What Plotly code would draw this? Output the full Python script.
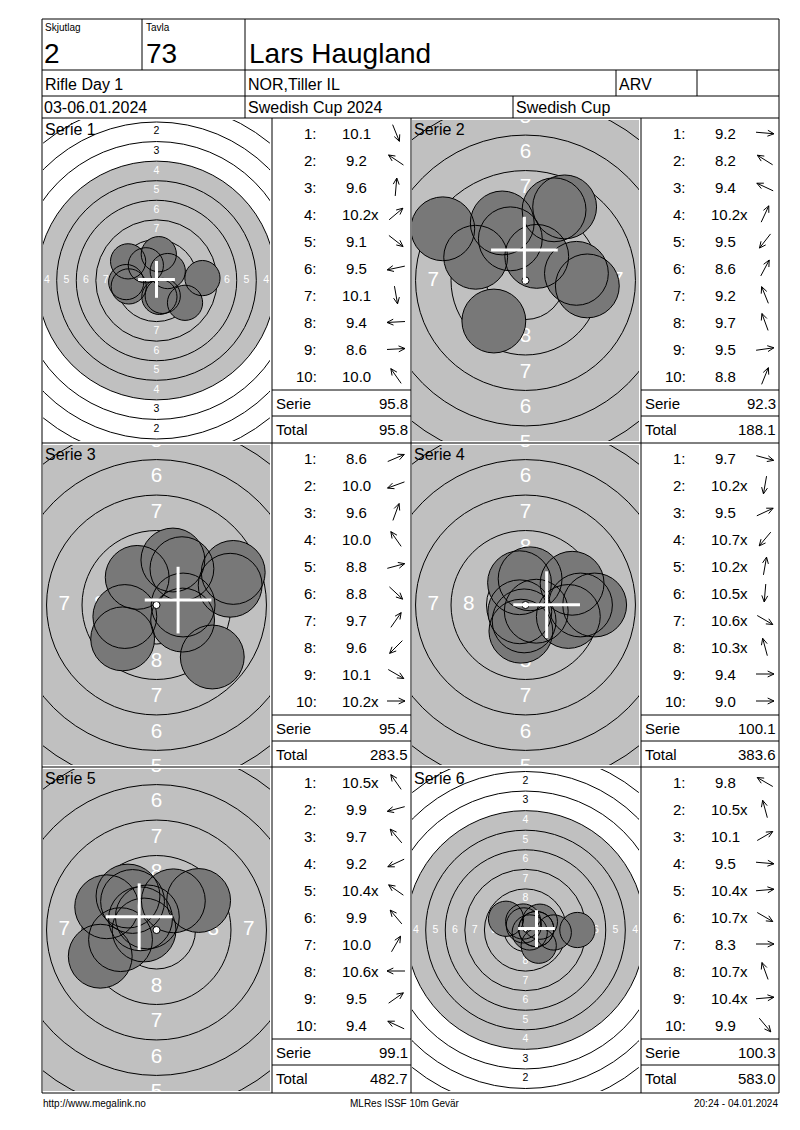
import math

import plotly.graph_objects as go

# ---- data read from the score card ----
skjutlag = "2"
tavla = "73"
shooter = "Lars Haugland"
klass = "Rifle Day 1"
club = "NOR,Tiller IL"
lag = "ARV"
dates = "03-06.01.2024"
competition = "Swedish Cup 2024"
cup = "Swedish Cup"
footer_left = "http://www.megalink.no"
footer_mid = "MLRes ISSF 10m Gevär"
footer_right = "20:24 - 04.01.2024"

series_names = ["Serie 1", "Serie 2", "Serie 3", "Serie 4", "Serie 5", "Serie 6"]

# shot values and direction of each shot (degrees, counter-clockwise from 3 o'clock)
s1_scores = [10.1, 9.2, 9.6, 10.2, 9.1, 9.5, 10.1, 9.4, 8.6, 10.0]
s1_dirs = [-68, 146, 85, 40, -38, 192, -80, 183, 3, 125]
s2_scores = [9.2, 8.2, 9.4, 10.2, 9.5, 8.6, 9.2, 9.7, 9.5, 8.8]
s2_dirs = [-5, 148, 155, 65, 232, 62, 112, 110, 8, 68]
s3_scores = [8.6, 10.0, 9.6, 10.0, 8.8, 8.8, 9.7, 9.6, 10.1, 10.2]
s3_dirs = [23, 200, 70, 125, 15, -43, 55, 225, -30, 0]
s4_scores = [9.7, 10.2, 9.5, 10.7, 10.2, 10.5, 10.6, 10.3, 9.4, 9.0]
s4_dirs = [-15, -100, 25, 230, 80, -95, -30, 105, 0, 0]
s5_scores = [10.5, 9.9, 9.7, 9.2, 10.4, 9.9, 10.0, 10.6, 9.5, 9.4]
s5_dirs = [125, 195, 130, 205, 145, 130, 60, 180, 35, 155]
s6_scores = [9.8, 10.5, 10.1, 9.5, 10.4, 10.7, 8.3, 10.7, 10.4, 9.9]
s6_dirs = [150, 105, 30, -5, 5, -30, 0, 110, 5, -50]

all_scores = [s1_scores, s2_scores, s3_scores, s4_scores, s5_scores, s6_scores]
all_dirs = [s1_dirs, s2_dirs, s3_dirs, s4_dirs, s5_dirs, s6_dirs]

# ---- page layout (pixels, page coordinates) ----
PAGE_W, PAGE_H = 800, 1130
OFF = 8                      # browser body margin
W, H = PAGE_W - OFF, PAGE_H - OFF
FONT = "Liberation Sans, Arial, sans-serif"
COL_X = [42, 272, 411, 641, 779]
BLOCK_Y = [118, 443, 767, 1093]
view_half_mm = [14.5, 8.0, 8.0, 8.0, 8.0, 14.5]   # target zoom per series

GRAY = "#c0c0c0"
SHOT = "#787878"
PELLET_R = 2.25
CROSS_R = 2.35

fig = go.Figure()
shapes = []
annotations = []


def line(x0, y0, x1, y1):
    shapes.append(dict(type="line", xref="x", yref="y", x0=x0, y0=y0, x1=x1, y1=y1,
                       line=dict(color="black", width=1), layer="above"))


def text(x, y, s, size, anchor="left", color="black"):
    annotations.append(dict(xref="x", yref="y", x=x, y=y, text=s, showarrow=False,
                            xanchor=anchor, yanchor="middle",
                            font=dict(family=FONT, size=size, color=color)))


# overlay axis in page pixels
fig.add_trace(go.Scatter(x=[], y=[], xaxis="x", yaxis="y", hoverinfo="skip"))

running_total = 0.0
for k in range(6):
    row, col = k // 2, k % 2
    tx0, tx1 = COL_X[2 * col], COL_X[2 * col + 1]
    bx0, bx1 = COL_X[2 * col + 1], COL_X[2 * col + 2]
    top, bot = BLOCK_Y[row], BLOCK_Y[row + 1]
    scores, dirs = all_scores[k], all_dirs[k]

    # ---- target subplot ----
    px0, px1, py0, py1 = tx0 + 1, tx1 - 2, top + 2, bot - 2
    scale = (px1 - px0) / (2 * view_half_mm[k])
    half_h = (py1 - py0) / (2 * scale)
    n = k + 2
    xa, ya = "x%d" % n, "y%d" % n
    fig.layout["xaxis%d" % n] = dict(domain=[(px0 - OFF) / W, (px1 - OFF) / W],
                                     range=[-view_half_mm[k], view_half_mm[k]],
                                     visible=False, fixedrange=True, anchor=ya)
    fig.layout["yaxis%d" % n] = dict(domain=[1 - (py1 - OFF) / H, 1 - (py0 - OFF) / H],
                                     range=[-half_h, half_h],
                                     visible=False, fixedrange=True, anchor=xa)

    # aiming mark (gray here) and ring lines
    r4 = 0.25 + 6 * 2.5
    shapes.append(dict(type="circle", xref=xa, yref=ya, x0=-r4, y0=-r4, x1=r4, y1=r4,
                       fillcolor=GRAY, line=dict(width=0), layer="below"))
    for ring in range(1, 10):
        r = 0.25 + (10 - ring) * 2.5
        shapes.append(dict(type="circle", xref=xa, yref=ya, x0=-r, y0=-r, x1=r, y1=r,
                           line=dict(color="black", width=1), layer="below"))

    # ring numbers
    lx, ly, lt, lc = [], [], [], []
    for ring in range(1, 9):
        r = (10 - ring) * 2.5 - 1.0
        for (ux, uy) in [(0, 1), (0, -1), (-1, 0), (1, 0)]:
            lx.append(ux * r)
            ly.append(uy * r)
            lt.append(str(ring))
            lc.append("white" if ring >= 4 else "black")
    fig.add_trace(go.Scatter(x=lx, y=ly, text=lt, mode="text", xaxis=xa, yaxis=ya,
                             textfont=dict(family=FONT, size=1.6 * scale - 2, color=lc),
                             hoverinfo="skip", cliponaxis=True))

    # shots
    sx, sy = [], []
    for s, d in zip(scores, dirs):
        dist = (10.95 - s) * 2.5
        a = math.radians(d)
        sx.append(dist * math.cos(a))
        sy.append(dist * math.sin(a))
    for x, y in zip(sx, sy):
        shapes.append(dict(type="circle", xref=xa, yref=ya, x0=x - PELLET_R, y0=y - PELLET_R,
                           x1=x + PELLET_R, y1=y + PELLET_R, fillcolor=SHOT,
                           line=dict(width=0), layer="above"))
    for x, y in zip(sx, sy):
        shapes.append(dict(type="circle", xref=xa, yref=ya, x0=x - PELLET_R, y0=y - PELLET_R,
                           x1=x + PELLET_R, y1=y + PELLET_R,
                           line=dict(color="black", width=1), layer="above"))
    shapes.append(dict(type="circle", xref=xa, yref=ya, x0=-0.25, y0=-0.25, x1=0.25, y1=0.25,
                       fillcolor="white", line=dict(color="black", width=1), layer="above"))
    mx, my = sum(sx) / len(sx), sum(sy) / len(sy)
    for (x0, y0, x1, y1) in [(mx - CROSS_R, my, mx + CROSS_R, my), (mx, my - CROSS_R, mx, my + CROSS_R)]:
        shapes.append(dict(type="line", xref=xa, yref=ya, x0=x0, y0=y0, x1=x1, y1=y1,
                           line=dict(color="white", width=3), layer="above"))

    text(tx0 + 1, top + 11, series_names[k], 16)

    # ---- score table ----
    for i, (s, d) in enumerate(zip(scores, dirs)):
        ry = top + 15 + i * 27
        text(bx0 + 47, ry, "%d:" % (i + 1), 15, "right")
        text(bx0 + 84, ry, "%.1f" % s, 15, "center")
        if s >= 10.2:
            text(bx0 + 97, ry, "x", 15, "left")
        a = math.radians(d)
        ux, uy = math.cos(a), -math.sin(a)
        cx, cy, L = bx0 + 124, ry, 18
        hx, hy = cx + ux * L / 2, cy + uy * L / 2
        tx, ty = cx - ux * L / 2, cy - uy * L / 2
        wings = []
        for sgn in (1, -1):
            b = math.atan2(-uy, -ux) + sgn * math.radians(25)
            wings.append((hx + 7 * math.cos(b), hy + 7 * math.sin(b)))
        path = "M%.2f,%.2f L%.2f,%.2f M%.2f,%.2f L%.2f,%.2f L%.2f,%.2f" % (
            tx, ty, hx, hy, wings[0][0], wings[0][1], hx, hy, wings[1][0], wings[1][1])
        shapes.append(dict(type="path", xref="x", yref="y", path=path,
                           line=dict(color="black", width=1), layer="above"))

    serie_sum = round(sum(scores), 1)
    running_total = round(running_total + serie_sum, 1)
    line(bx0, top + 272, bx1, top + 272)
    line(bx0, top + 298, bx1, top + 298)
    text(bx0 + 2, top + 285, "Serie", 15)
    text(bx1 - 1, top + 285, "%.1f" % serie_sum, 15, "right")
    text(bx0 + 2, top + 311, "Total", 15)
    text(bx1 - 1, top + 311, "%.1f" % running_total, 15, "right")

# ---- header ----
text(43, 27, "Skjutlag", 10)
text(144, 27, "Tavla", 10)
text(42, 53, skjutlag, 28)
text(144, 53, tavla, 28)
text(247, 53, shooter, 28)
text(43, 84, klass, 16)
text(246, 84, club, 16)
text(617, 84, lag, 16)
text(42, 107, dates, 16)
text(246, 107, competition, 16)
text(514, 107, cup, 16)
text(41, 1103, footer_left, 10)
text(405, 1103, footer_mid, 10, "center")
text(780, 1103, footer_right, 10, "right")

# ---- grid lines ----
shapes.append(dict(type="rect", xref="x", yref="y", x0=COL_X[0], y0=19, x1=COL_X[-1], y1=BLOCK_Y[-1],
                   line=dict(color="black", width=1), layer="above"))
for y in [70, 96, 118, 443, 767]:
    line(COL_X[0], y, COL_X[-1], y)
line(142, 19, 142, 70)
line(245, 19, 245, 118)
line(616, 70, 616, 96)
line(697, 70, 697, 96)
line(513, 96, 513, 118)
for x in COL_X[1:-1]:
    line(x, BLOCK_Y[0], x, BLOCK_Y[-1])

fig.update_layout(
    width=W, height=H,
    margin=dict(l=0, r=0, t=0, b=0),
    paper_bgcolor="white", plot_bgcolor="white",
    showlegend=False,
    xaxis=dict(domain=[0, 1], range=[OFF, PAGE_W], visible=False, fixedrange=True),
    yaxis=dict(domain=[0, 1], range=[PAGE_H, OFF], visible=False, fixedrange=True),
    shapes=shapes,
    annotations=annotations,
)

fig.write_html("out.html")
